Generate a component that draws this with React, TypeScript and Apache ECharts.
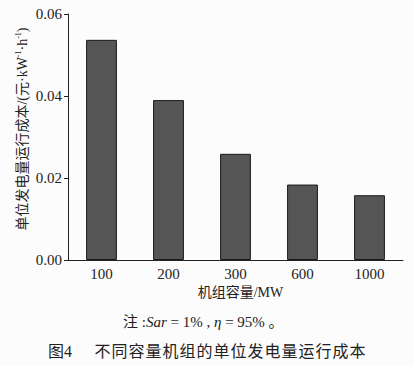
import React, { useEffect, useRef } from "react";
import * as echarts from "echarts";

const categories = ["100", "200", "300", "600", "1000"];
const costValues = [0.0537, 0.039, 0.0259, 0.0184, 0.0158];
const yTicks = { min: 0, max: 0.06, interval: 0.02 };

const serif = "'Liberation Serif', 'Noto Sans CJK SC', serif";
const captionNo = "图4";
const captionText = "不同容量机组的单位发电量运行成本";

export default function App() {
  const ref = useRef<HTMLDivElement>(null);
  useEffect(() => {
    if (!ref.current) return;
    const chart = echarts.init(ref.current, null, { renderer: "svg" });
    const spaced = captionText
      .split("")
      .map((c) => "{c|" + c + "}")
      .join("");
    chart.setOption({
      animation: false,
      backgroundColor: "#fcfcfc",
      grid: { left: 68, top: 14, right: 11, bottom: 106 },
      xAxis: {
        type: "category",
        data: categories,
        name: "机组容量/MW",
        nameLocation: "middle",
        nameGap: 25,
        nameTextStyle: { fontFamily: serif, fontSize: 14, color: "#222", padding: [0, 0, 0, 10] },
        axisLine: { lineStyle: { color: "#222", width: 1 } },
        axisTick: { inside: true, length: 4, lineStyle: { color: "#222" } },
        axisLabel: { fontFamily: serif, fontSize: 15, color: "#222", margin: 6 },
      },
      yAxis: {
        type: "value",
        min: yTicks.min,
        max: yTicks.max,
        interval: yTicks.interval,
        axisLine: { show: true, lineStyle: { color: "#222", width: 1 } },
        axisTick: { show: true, length: 4, lineStyle: { color: "#222" } },
        splitLine: { show: false },
        axisLabel: {
          fontFamily: serif,
          fontSize: 15,
          color: "#222",
          margin: 6,
          formatter: (v: number) => v.toFixed(2),
        },
      },
      series: [
        {
          type: "bar",
          data: costValues,
          barWidth: "46%",
          itemStyle: { color: "#555555", borderColor: "#1a1a1a", borderWidth: 1 },
        },
      ],
      graphic: [
        {
          type: "text",
          x: 22,
          y: 129,
          rotation: Math.PI / 2,
          style: {
            text: "{n|单位发电量运行成本/(元·kW}{s|-1}{n|·h}{s|-1}{n|)}",
            align: "center",
            verticalAlign: "middle",
            rich: {
              n: { fontFamily: serif, fontSize: 14, fill: "#222", lineHeight: 16 },
              s: { fontFamily: serif, fontSize: 8, fill: "#222", lineHeight: 16, verticalAlign: "top", padding: [0, 0, 6, 0] },
            },
          },
        },
        {
          type: "text",
          x: 123,
          y: 322,
          style: {
            text: "{n|注 :}{i|Sar}{n| = 1% , }{i|η}{n| = 95% 。}",
            verticalAlign: "middle",
            rich: {
              n: { fontFamily: serif, fontSize: 15, fill: "#222" },
              i: { fontFamily: serif, fontSize: 15, fontStyle: "italic", fill: "#222" },
            },
          },
        },
        {
          type: "text",
          x: 48,
          y: 351,
          style: {
            text: captionNo,
            verticalAlign: "middle",
            fontFamily: serif,
            fontSize: 16,
            fill: "#222",
          },
        },
        {
          type: "text",
          x: 94,
          y: 351,
          style: {
            text: spaced,
            verticalAlign: "middle",
            rich: {
              c: { fontFamily: serif, fontSize: 16, fill: "#222", padding: [0, 0.5, 0, 0.5] },
            },
          },
        },
      ],
    });
    return () => chart.dispose();
  }, []);
  return (
    <div
      ref={ref}
      style={{ position: "fixed", left: 0, top: 0, width: 414, height: 366 }}
    />
  );
}
